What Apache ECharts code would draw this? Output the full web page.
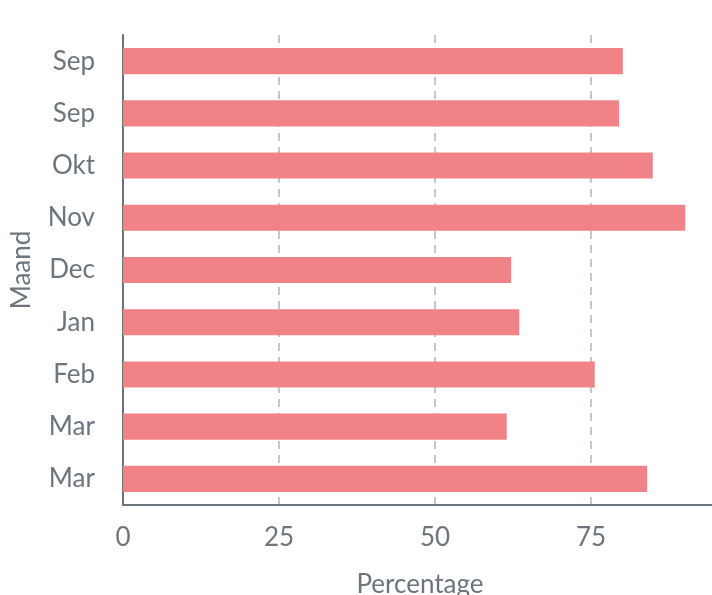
<!DOCTYPE html>
<html>
<head>
<meta charset="utf-8">
<script src="https://cdn.jsdelivr.net/npm/echarts@6/dist/echarts.min.js"></script>
<style>
html,body{margin:0;padding:0;background:#fff;}
#chart{width:712px;height:595px;}
</style>
</head>
<body>
<div id="chart"></div>
<script>
const categories = ['Sep', 'Sep', 'Okt', 'Nov', 'Dec', 'Jan', 'Feb', 'Mar', 'Mar'];
const values = [80.1, 79.5, 84.9, 90.1, 62.2, 63.5, 75.6, 61.5, 84.0];
const xTicks = [0, 25, 50, 75];

const textColor = '#6c757d';
const chart = echarts.init(document.getElementById('chart'), null, {renderer: 'canvas'});
chart.setOption({
  animation: false,
  backgroundColor: '#ffffff',
  textStyle: {fontFamily: 'Lato'},
  grid: {left: 123, right: -35, top: 35, bottom: 90, containLabel: false, outerBoundsMode: 'none'},
  xAxis: {
    type: 'value',
    min: 0,
    max: 100,
    interval: 25,
    name: 'Percentage',
    nameLocation: 'middle',
    nameGap: 67,
    nameTextStyle: {color: textColor, fontSize: 26, fontFamily: 'Lato', padding: [0, 30, 0, 0]},
    axisLine: {show: true, lineStyle: {color: '#6b737b', width: 2}},
    axisTick: {show: false},
    axisLabel: {
      color: textColor, fontSize: 26, fontFamily: 'Lato', margin: 20,
      formatter: v => xTicks.includes(v) ? String(v) : ''
    },
    splitLine: {show: true, lineStyle: {color: '#c4c8cc', type: [8, 6], width: 2}}
  },
  yAxis: {
    type: 'category',
    data: categories,
    inverse: true,
    name: 'Maand',
    nameLocation: 'middle',
    nameGap: 88,
    nameTextStyle: {color: textColor, fontSize: 26, fontFamily: 'Lato'},
    axisLine: {show: true, lineStyle: {color: '#6b737b', width: 2}},
    axisTick: {show: false},
    axisLabel: {color: textColor, fontSize: 26, fontFamily: 'Lato', margin: 28, padding: [4, 0, 0, 0]},
    splitLine: {show: false}
  },
  series: [{
    type: 'bar',
    data: values,
    barWidth: '50%',
    itemStyle: {color: '#f08288'}
  }]
});
</script>
</body>
</html>
